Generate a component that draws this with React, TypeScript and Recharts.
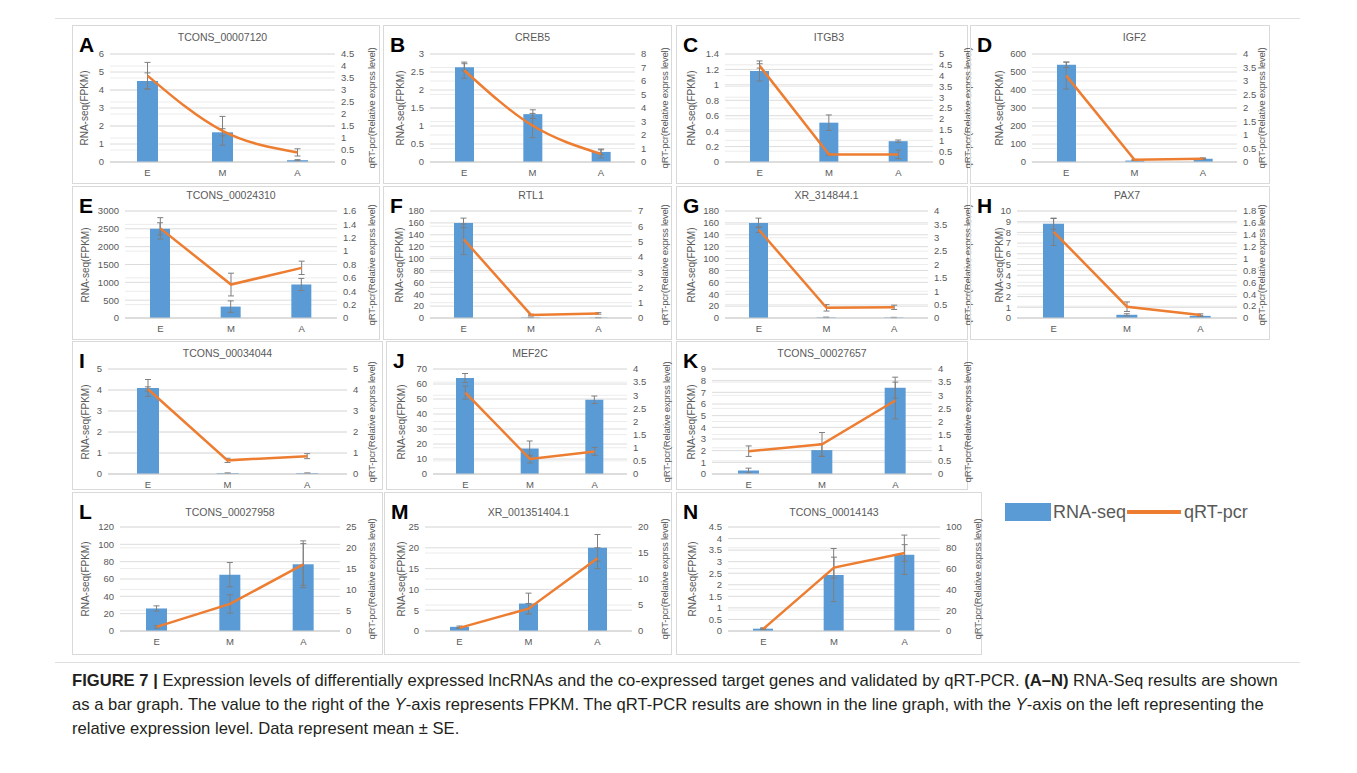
import React from 'react';
import { ComposedChart, Bar, Line, XAxis, YAxis, CartesianGrid, ErrorBar } from 'recharts';

const CATEGORIES = ['E', 'M', 'A'];
const LETTERS = ['A', 'B', 'C', 'D', 'E', 'F', 'G', 'H', 'I', 'J', 'K', 'L', 'M', 'N'];
const TITLES = [
  'TCONS_00007120', 'CREB5', 'ITGB3', 'IGF2',
  'TCONS_00024310', 'RTL1', 'XR_314844.1', 'PAX7',
  'TCONS_00034044', 'MEF2C', 'TCONS_00027657',
  'TCONS_00027958', 'XR_001351404.1', 'TCONS_00014143',
];

// RNA-seq (FPKM), bars on the left axis
const RNA_SEQ = [
  [4.5, 1.65, 0.1], [2.63, 1.33, 0.28], [1.18, 0.51, 0.27], [540, 8, 18],
  [2500, 320, 940], [160, 1, 0.6], [160, 1, 0.8], [8.8, 0.3, 0.2],
  [4.1, 0.04, 0.04], [64, 17, 49.5], [0.3, 2.05, 7.4],
  [26, 65, 77], [1, 6.6, 20], [0.1, 2.42, 3.3],
];
const RNA_SEQ_ERR = [
  [0.45, 0.2, 0.03], [0.1, 0.12, 0.08], [0.13, 0.1, 0.015], [15, 2, 3],
  [170, 160, 170], [8, 0.5, 0.3], [8, 0.5, 0.3], [0.5, 0.1, 0.05],
  [0.4, 0.01, 0.01], [3, 5, 2.5], [0.2, 0.55, 0.9],
  [3, 14, 27], [0.2, 2.5, 3.2], [0.02, 1.15, 0.85],
];

// qRT-PCR (relative expression), line on the right axis
const QPCR = [
  [3.6, 1.3, 0.4], [6.8, 2.7, 0.6], [4.45, 0.35, 0.35], [3.2, 0.08, 0.12],
  [1.34, 0.5, 0.75], [5.15, 0.2, 0.3], [3.3, 0.38, 0.4], [1.45, 0.19, 0.05],
  [4.05, 0.65, 0.85], [3.1, 0.57, 0.86], [0.87, 1.13, 2.8],
  [1, 6.5, 16], [0.6, 4.3, 14], [2, 61, 75],
];
const QPCR_ERR = [
  [0.55, 0.6, 0.15], [0.6, 0.9, 0.3], [0.1, 0.05, 0.2], [0.5, 0.02, 0.03],
  [0.16, 0.17, 0.1], [1.0, 0.05, 0.05], [0.1, 0.12, 0.08], [0.23, 0.08, 0.02],
  [0.1, 0.1, 0.12], [0.25, 0.15, 0.15], [0.2, 0.45, 0.7],
  [0.3, 2.2, 5], [0.1, 1, 2], [1, 10, 8],
];

const LEFT_TICKS = [
  [0, 1, 2, 3, 4, 5, 6], [0, 0.5, 1, 1.5, 2, 2.5, 3], [0, 0.2, 0.4, 0.6, 0.8, 1, 1.2, 1.4], [0, 100, 200, 300, 400, 500, 600],
  [0, 500, 1000, 1500, 2000, 2500, 3000], [0, 20, 40, 60, 80, 100, 120, 140, 160, 180], [0, 20, 40, 60, 80, 100, 120, 140, 160, 180], [0, 1, 2, 3, 4, 5, 6, 7, 8, 9, 10],
  [0, 1, 2, 3, 4, 5], [0, 10, 20, 30, 40, 50, 60, 70], [0, 1, 2, 3, 4, 5, 6, 7, 8, 9],
  [0, 20, 40, 60, 80, 100, 120], [0, 5, 10, 15, 20, 25], [0, 0.5, 1, 1.5, 2, 2.5, 3, 3.5, 4, 4.5],
];
const RIGHT_TICKS = [
  [0, 0.5, 1, 1.5, 2, 2.5, 3, 3.5, 4, 4.5], [0, 1, 2, 3, 4, 5, 6, 7, 8], [0, 0.5, 1, 1.5, 2, 2.5, 3, 3.5, 4, 4.5, 5], [0, 0.5, 1, 1.5, 2, 2.5, 3, 3.5, 4],
  [0, 0.2, 0.4, 0.6, 0.8, 1, 1.2, 1.4, 1.6], [0, 1, 2, 3, 4, 5, 6, 7], [0, 0.5, 1, 1.5, 2, 2.5, 3, 3.5, 4], [0, 0.2, 0.4, 0.6, 0.8, 1, 1.2, 1.4, 1.6, 1.8],
  [0, 1, 2, 3, 4, 5], [0, 0.5, 1, 1.5, 2, 2.5, 3, 3.5, 4], [0, 0.5, 1, 1.5, 2, 2.5, 3, 3.5, 4],
  [0, 5, 10, 15, 20, 25], [0, 5, 10, 15, 20], [0, 20, 40, 60, 80, 100],
];

// layout: panel box [x, y, w, h], plot x-range, axis label centers
const BOXES = [
  [72, 25, 308, 159], [383, 25, 289, 159], [676, 25, 292, 159], [970, 25, 300, 159],
  [72, 186, 308, 154], [383, 186, 289, 154], [676, 186, 292, 154], [970, 186, 300, 154],
  [72, 341, 311, 149], [386, 341, 286, 149], [676, 341, 292, 149],
  [72, 492, 311, 163], [384, 492, 288, 163], [676, 492, 306, 163],
];
const PLOT_X = [
  [110, 335], [430, 635], [725, 933], [1032, 1237],
  [125, 337], [430, 632], [725, 928], [1017, 1237],
  [108, 347], [433, 627], [712, 932],
  [120, 340], [425, 632], [728, 940],
];
const LEFT_LABEL_X = [85, 401, 692, 1000, 86, 400, 692, 1000, 86, 402, 692, 86, 402, 693];
const RIGHT_LABEL_X = [372, 665, 968, 1262, 372, 665, 968, 1262, 372, 667, 968, 372, 665, 978];
const ROW_OF = [0, 0, 0, 0, 1, 1, 1, 1, 2, 2, 2, 3, 3, 3];
const ROW_PLOT_Y = [[29, 22], [25, 22], [28, 16], [35, 24]];
const ROW_TITLE_Y = [12, 9, 12, 20];
const SMOOTH = [true, true];

const FONT = "'Liberation Sans', Arial, sans-serif";
const GREY = '#595959';
const BLUE = '#5b9bd5';
const ORANGE = '#ed7d31';

function Panel({ i }: { i: number }) {
  const [bx, by, bw, bh] = BOXES[i];
  const [pl, pr] = PLOT_X[i];
  const [pt, pb] = ROW_PLOT_Y[ROW_OF[i]];
  const lt = LEFT_TICKS[i];
  const rt = RIGHT_TICKS[i];
  const data = CATEGORIES.map((c, k) => ({
    stage: c,
    rna: RNA_SEQ[i][k],
    rnaErr: RNA_SEQ_ERR[i][k],
    qpcr: QPCR[i][k],
    qpcrErr: QPCR_ERR[i][k],
  }));
  const plotW = pr - pl;
  const plotH = bh - pt - pb;
  const barSize = Math.round((plotW / 3) * 0.28);
  const midY = by + pt + plotH / 2;
  const tick = { fill: GREY, fontSize: 9.5, fontFamily: FONT };
  return (
    <>
      <div
        style={{
          position: 'absolute',
          left: bx,
          top: by,
          width: bw,
          height: bh,
          border: '1px solid #d9d9d9',
          boxSizing: 'border-box',
        }}
      />
      <div style={{ position: 'absolute', left: bx, top: by }}>
        <ComposedChart
          width={bw}
          height={bh}
          data={data}
          margin={{ top: pt, right: 0, left: 0, bottom: 0 }}
        >
          <CartesianGrid yAxisId="r" vertical={false} stroke="#ececec" />
          <CartesianGrid yAxisId="l" vertical={false} stroke="#dcdcdc" />
          <XAxis
            dataKey="stage"
            height={pb}
            tick={tick}
            tickLine={false}
            axisLine={{ stroke: '#d0d0d0' }}
            tickSize={0}
            tickMargin={7}
          />
          <YAxis
            yAxisId="l"
            orientation="left"
            width={pl - bx}
            domain={[0, lt[lt.length - 1]]}
            ticks={lt}
            interval={0}
            tick={tick}
            tickLine={false}
            axisLine={false}
            tickSize={0}
            tickMargin={6}
          />
          <YAxis
            yAxisId="r"
            orientation="right"
            width={bx + bw - pr}
            domain={[0, rt[rt.length - 1]]}
            ticks={rt}
            interval={0}
            tick={tick}
            tickLine={false}
            axisLine={false}
            tickSize={0}
            tickMargin={6}
          />
          <Bar yAxisId="l" dataKey="rna" fill={BLUE} barSize={barSize} isAnimationActive={false}>
            <ErrorBar dataKey="rnaErr" width={3} stroke="#7f7f7f" strokeWidth={1} isAnimationActive={false} />
          </Bar>
          <Line
            yAxisId="r"
            dataKey="qpcr"
            type={SMOOTH[i] ? 'monotone' : 'linear'}
            stroke={ORANGE}
            strokeWidth={2.5}
            dot={false}
            isAnimationActive={false}
          >
            <ErrorBar dataKey="qpcrErr" width={3} stroke="#7f7f7f" strokeWidth={1} isAnimationActive={false} />
          </Line>
        </ComposedChart>
      </div>
      <div
        style={{
          position: 'absolute',
          left: bx + 7,
          top: by + 9,
          fontFamily: FONT,
          fontWeight: 700,
          fontSize: 21,
          lineHeight: '21px',
          color: '#000',
        }}
      >
        {LETTERS[i]}
      </div>
      <div
        style={{
          position: 'absolute',
          left: pl,
          width: plotW,
          top: by + ROW_TITLE_Y[ROW_OF[i]] - 7,
          textAlign: 'center',
          fontFamily: FONT,
          fontSize: 10.5,
          lineHeight: '14px',
          color: GREY,
        }}
      >
        {TITLES[i]}
      </div>
      <div
        style={{
          position: 'absolute',
          left: LEFT_LABEL_X[i] - 60,
          top: midY - 7,
          width: 120,
          textAlign: 'center',
          transform: 'rotate(-90deg)',
          fontFamily: FONT,
          fontSize: 10,
          lineHeight: '14px',
          color: GREY,
          whiteSpace: 'nowrap',
        }}
      >
        RNA-seq(FPKM)
      </div>
      <div
        style={{
          position: 'absolute',
          left: RIGHT_LABEL_X[i] - 80,
          top: midY - 7,
          width: 160,
          textAlign: 'center',
          transform: 'rotate(-90deg)',
          fontFamily: FONT,
          fontSize: 9.6,
          letterSpacing: -0.25,
          lineHeight: '14px',
          color: GREY,
          whiteSpace: 'nowrap',
        }}
      >
        qRT-pcr(Relative exprss level)
      </div>
    </>
  );
}

export default function App() {
  return (
    <div
      style={{
        position: 'absolute',
        left: 0,
        top: 0,
        width: 1357,
        height: 773,
        background: '#fff',
        overflow: 'hidden',
      }}
    >
      <div style={{ position: 'absolute', left: 55, top: 18, width: 1245, height: 1, background: '#e0e0e0' }} />
      <div style={{ position: 'absolute', left: 55, top: 662, width: 1245, height: 1, background: '#e0e0e0' }} />
      {LETTERS.map((_, i) => (
        <Panel key={i} i={i} />
      ))}
      <div style={{ position: 'absolute', left: 1005, top: 503, width: 46, height: 18, background: BLUE }} />
      <div
        style={{
          position: 'absolute',
          left: 1053,
          top: 499,
          fontFamily: FONT,
          fontSize: 18,
          lineHeight: '26px',
          color: GREY,
        }}
      >
        RNA-seq
      </div>
      <div style={{ position: 'absolute', left: 1127, top: 510, width: 54, height: 4, background: ORANGE }} />
      <div
        style={{
          position: 'absolute',
          left: 1184,
          top: 499,
          fontFamily: FONT,
          fontSize: 18,
          lineHeight: '26px',
          color: GREY,
        }}
      >
        qRT-pcr
      </div>
      <div
        style={{
          position: 'absolute',
          left: 72,
          top: 669,
          fontFamily: FONT,
          fontSize: 16.6,
          lineHeight: '24px',
          color: '#231f20',
          whiteSpace: 'nowrap',
        }}
      >
        <div>
          <b>FIGURE 7 |</b> Expression levels of differentially expressed lncRNAs and the co-expressed target genes and
          validated by qRT-PCR. <b>(A–N)</b> RNA-Seq results are shown
        </div>
        <div>
          as a bar graph. The value to the right of the <i>Y</i>-axis represents FPKM. The qRT-PCR results are shown in
          the line graph, with the <i>Y</i>-axis on the left representing the
        </div>
        <div>relative expression level. Data represent mean ± SE.</div>
      </div>
    </div>
  );
}
